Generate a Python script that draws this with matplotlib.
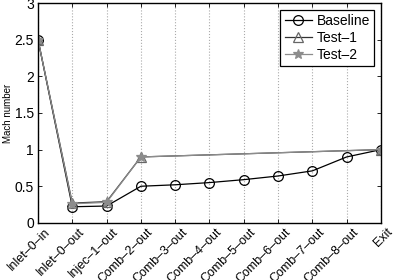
import numpy as np
import matplotlib.pyplot as plt
import matplotlib.transforms as mtransforms

plt.rcParams['font.family'] = ['Liberation Sans', 'DejaVu Sans']

stations = ['Inlet–0–in', 'Inlet–0–out', 'Injec–1–out', 'Comb–2–out', 'Comb–3–out',
            'Comb–4–out', 'Comb–5–out', 'Comb–6–out', 'Comb–7–out', 'Comb–8–out', 'Exit']
baseline = [2.5, 0.22, 0.23, 0.50, 0.52, 0.55, 0.59, 0.64, 0.71, 0.90, 1.0]
test1 = [2.5, 0.27, 0.29, 0.90, np.nan, np.nan, np.nan, np.nan, np.nan, np.nan, 1.0]
test2 = [2.5, 0.26, 0.28, 0.90, np.nan, np.nan, np.nan, np.nan, np.nan, np.nan, 1.0]

x = np.arange(len(stations))

fig = plt.figure(figsize=(3.96, 2.80), dpi=100)
ax = fig.add_axes([0.096, 0.204, 0.866, 0.785])

m1 = ~np.isnan(test1)
m2 = ~np.isnan(test2)
ax.plot(x, baseline, color='black', lw=0.9, marker='o', ms=7, mfc='none',
        mec='black', mew=0.9, label='Baseline')
ax.plot(x[m1], np.array(test1)[m1], color='#333333', lw=0.9, marker='^', ms=7,
        mfc='none', mec='#666666', mew=0.9, label='Test–1')
ax.plot(x[m2], np.array(test2)[m2], color='#8c8c8c', lw=0.9, marker='*', ms=7,
        mfc='#8c8c8c', mec='#8c8c8c', mew=0.9, label='Test–2')

ax.set_xlim(0, len(stations) - 1)
ax.set_ylim(0, 3)
ax.set_xticks(x)
ax.set_xticklabels([])
# rotated station names, shifted a little right of each tick like the original
trans = ax.get_xaxis_transform() + mtransforms.ScaledTranslation(6 / 100, -3 / 100, fig.dpi_scale_trans)
for xi, name in zip(x, stations):
    ax.text(xi, 0, name, transform=trans, rotation=45, ha='right', va='top',
            rotation_mode='anchor', fontsize=9, clip_on=False)
ax.set_yticks([0, 0.5, 1, 1.5, 2, 2.5, 3])
ax.set_yticklabels(['0', '0.5', '1', '1.5', '2', '2.5', '3'], fontsize=10)
ax.set_ylabel('Mach number', fontsize=7, labelpad=1)
ax.tick_params(direction='in', top=True, right=True, length=3, width=0.6, pad=3)
ax.grid(axis='x', color='#aaaaaa', linestyle=':', linewidth=0.8)
for s in ax.spines.values():
    s.set_linewidth(1.0)

leg = ax.legend(loc='upper right', fontsize=10, fancybox=False, framealpha=1,
                edgecolor='black', borderaxespad=0.5, handlelength=2.0,
                labelspacing=0.2, borderpad=0.3, handletextpad=0.3)
leg.get_frame().set_linewidth(0.9)

fig.savefig('out.png', dpi=100)
